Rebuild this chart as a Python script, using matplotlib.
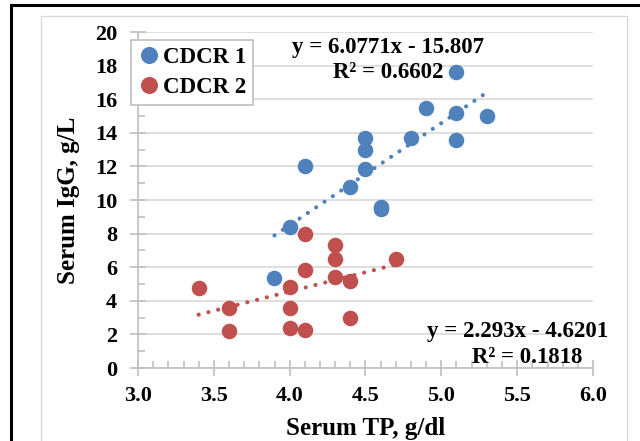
import numpy as np
import matplotlib
matplotlib.use('Agg')
from matplotlib import pyplot as plt
from matplotlib.patches import Rectangle

# CDCR 1 (blue)
tp1 = [3.9, 4.0, 4.1, 4.4, 4.5, 4.5, 4.5, 4.6, 4.6, 4.8, 4.9, 5.1, 5.1, 5.1, 5.3]
igg1 = [5.35, 8.4, 12.0, 10.8, 13.7, 13.0, 11.85, 9.6, 9.45, 13.7, 15.5, 17.6, 15.2, 13.6, 15.0]
# CDCR 2 (red)
tp2 = [3.4, 3.6, 3.6, 4.0, 4.0, 4.0, 4.1, 4.1, 4.1, 4.3, 4.3, 4.3, 4.4, 4.4, 4.7]
igg2 = [4.75, 3.55, 2.2, 4.8, 3.6, 2.4, 8.0, 5.85, 2.25, 7.3, 6.5, 5.4, 5.2, 3.0, 6.5]

# trendline coefficients as shown on the chart
slope = [6.0771, 2.293]
intercept = [-15.807, -4.6201]
r2 = [0.6602, 0.1818]

blue = '#4F81BD'
red = '#C0504D'

plt.rcParams['font.family'] = ['Liberation Serif', 'DejaVu Serif']
plt.rcParams['font.weight'] = 'bold'

fig = plt.figure(figsize=(6.4, 4.41), dpi=100)
ax = fig.add_axes([138/640, 1-368/441, (593-138)/640, (368-32)/441])

# outer borders
fig.patches.append(Rectangle((11/640, -0.1), 1.0, 1-5/441+0.1, transform=fig.transFigure,
                             fill=False, edgecolor='black', linewidth=2.2, clip_on=False))
fig.patches.append(Rectangle((41/640, -0.1), (627-41)/640, 1-16/441+0.1, transform=fig.transFigure,
                             fill=False, edgecolor='#D9D9D9', linewidth=1.0, clip_on=False))

ax.scatter(tp1, igg1, s=125, color=blue, label='CDCR 1', zorder=3, linewidths=0)
ax.scatter(tp2, igg2, s=125, color=red, label='CDCR 2', zorder=3, linewidths=0)

for xs, m, b, c in [(tp1, slope[0], intercept[0], blue), (tp2, slope[1], intercept[1], red)]:
    xx = np.array([min(xs), max(xs)])
    ax.plot(xx, m*xx + b, linestyle=(0, (0.01, 2.4)), color=c, linewidth=3.0,
            dash_capstyle='round', zorder=2)

ax.set_xlim(3.0, 6.0)
ax.set_ylim(0, 20)
ax.set_xticks(np.arange(3.0, 6.01, 0.5))
ax.set_xticklabels(['%.1f' % v for v in np.arange(3.0, 6.01, 0.5)])
ax.set_yticks(np.arange(0, 21, 2))
ax.set_xticks(np.arange(3.0, 6.01, 0.1), minor=True)
ax.set_yticks(np.arange(0, 21, 1), minor=True)
ax.yaxis.grid(True, color='#D9D9D9', linewidth=1.2)
ax.set_axisbelow(True)

for s in ['top', 'right']:
    ax.spines[s].set_visible(False)
for s in ['left', 'bottom']:
    ax.spines[s].set_color('#BFBFBF')
    ax.spines[s].set_linewidth(1.2)

ax.tick_params(which='major', direction='inout', length=12, width=1.2, color='#BFBFBF',
               labelsize=16, pad=2)
ax.tick_params(axis='x', which='major', pad=7)
ax.tick_params(axis='y', which='major', pad=9)
ax.tick_params(which='minor', direction='in', length=5, width=1.2, color='#BFBFBF')
for lab in ax.get_xticklabels() + ax.get_yticklabels():
    lab.set_fontweight('bold')

ax.set_xlabel('Serum TP, g/dl', fontsize=18, fontweight='bold', labelpad=8)
ax.set_ylabel('Serum IgG, g/L', fontsize=18, fontweight='bold', labelpad=11)

leg = ax.legend(loc='upper left', bbox_to_anchor=(-0.016, 0.976),
                handletextpad=0.1, handlelength=1.0, borderpad=0.3, labelspacing=0.4,
                borderaxespad=0.0, markerscale=1.1,
                fancybox=False, edgecolor='#BFBFBF', framealpha=1, scatteryoffsets=[0.5],
                prop={'weight': 'bold', 'size': 16.5})
leg.get_frame().set_linewidth(1.2)

ax.text(3.0 + (388-138)/455*3, 19.1, 'y = %.4fx - %.3f' % (slope[0], -intercept[0]),
        ha='center', va='center', fontsize=16.5, fontweight='bold')
ax.text(3.0 + (388-138)/455*3, 17.6, 'R² = %.4f' % r2[0],
        ha='center', va='center', fontsize=16.5, fontweight='bold')
ax.text(3.0 + (518-138)/455*3, 2.15, 'y = %.3fx - %.4f' % (slope[1], -intercept[1]),
        ha='center', va='center', fontsize=16.5, fontweight='bold')
ax.text(3.0 + (527-138)/455*3, 0.65, 'R² = %.4f' % r2[1],
        ha='center', va='center', fontsize=16.5, fontweight='bold')

fig.savefig('out.png', dpi=100)
